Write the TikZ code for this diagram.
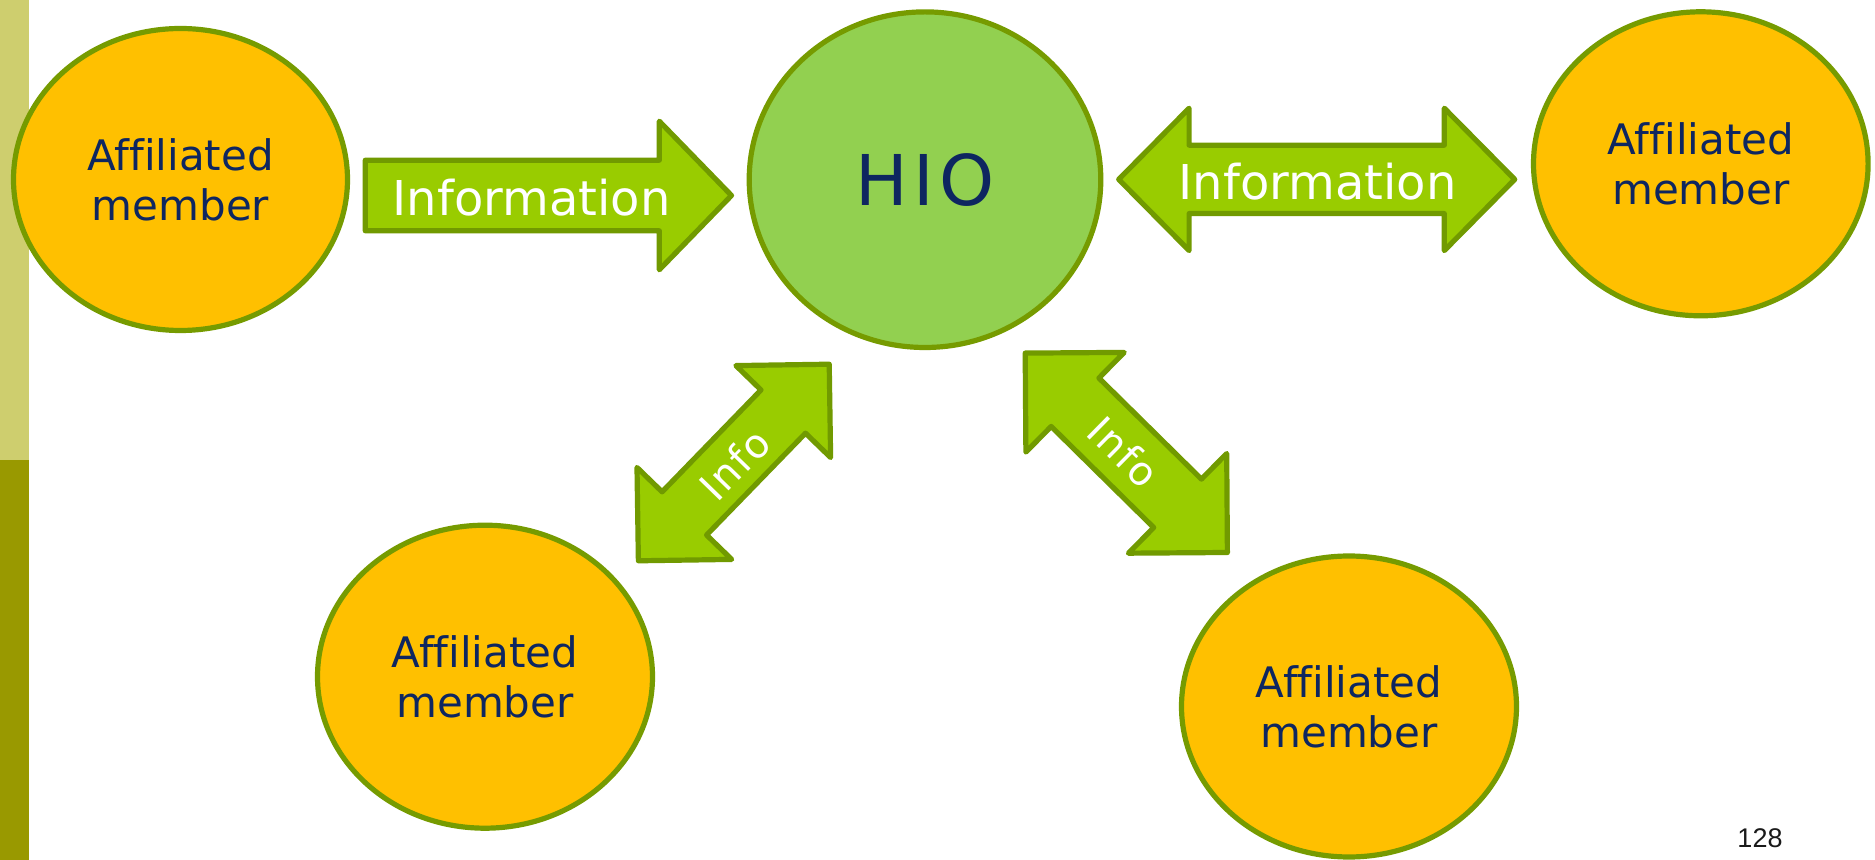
\documentclass[tikz,border=0pt]{standalone}
\usepackage{fontspec}
\setmainfont{DejaVu Sans}[Ligatures=NoCommon]
\newfontfamily\pagenumfont{Liberation Sans}
\usetikzlibrary{shapes.geometric}

\definecolor{barlight}{HTML}{CECE6E}
\definecolor{bardark}{HTML}{999900}
\definecolor{memberfill}{HTML}{FFC000}
\definecolor{hubfill}{HTML}{92D050}
\definecolor{ringgreen}{HTML}{769B00}
\definecolor{arrowfill}{HTML}{99CC00}
\definecolor{arrowline}{HTML}{719A00}
\definecolor{textnavy}{HTML}{0E2660}
\definecolor{pagegray}{HTML}{1A1A1A}

\begin{document}
\begin{tikzpicture}[x=0.5pt,y=-0.5pt,
  member/.style={ellipse, draw=ringgreen, line width=2.6pt, fill=memberfill,
    text=textnavy, inner sep=0pt, align=center,
    font=\fontsize{21}{25}\selectfont},
  hub/.style={ellipse, draw=ringgreen, line width=2.6pt, fill=hubfill,
    text=textnavy, inner sep=0pt,
    font=\fontsize{35}{42}\selectfont\addfontfeature{LetterSpace=8}},
  blockarrow/.style={fill=arrowfill, draw=arrowline, line width=2.6pt,
    line join=round},
  arrowtext/.style={text=white, inner sep=0pt,
    font=\fontsize{24}{29}\selectfont},
  infotext/.style={text=white, inner sep=0pt,
    font=\fontsize{20}{24}\selectfont\addfontfeature{LetterSpace=4}},
  % double-headed block arrow centred on the origin:
  % #1 total length, #2 head half-width, #3 shaft half-width, #4 head length
  pics/dblarrow/.style n args={4}{code={
    \path[blockarrow]
      (-#1/2,0) -- (-#1/2+#4,-#2) -- (-#1/2+#4,-#3) -- (#1/2-#4,-#3)
      -- (#1/2-#4,-#2) -- (#1/2,0) -- (#1/2-#4,#2) -- (#1/2-#4,#3)
      -- (-#1/2+#4,#3) -- (-#1/2+#4,#2) -- cycle;
  }}
]
\useasboundingbox (0,0) rectangle (1875,860);

% side bar
\fill[barlight] (0,0) rectangle (29,460);
\fill[bardark] (0,460) rectangle (29,860);

% members and hub
\node[member, minimum width=167pt, minimum height=151pt] (m1) at (180.5,179.5) {Affiliated\\member};
\node[hub, minimum width=175.8pt, minimum height=167.8pt] (hio) at (925,179.7) {HIO};
\node[member, minimum width=167.3pt, minimum height=152pt] (m2) at (1700.8,163.8) {Affiliated\\member};
\node[member, minimum width=167.5pt, minimum height=151.5pt] (m3) at (485,676.7) {Affiliated\\member};
\node[member, minimum width=167.5pt, minimum height=150.5pt] (m4) at (1349,706.5) {Affiliated\\member};

% one-way arrow from the left member to the hub
\path[blockarrow] (365.3,160.2) -- (659.3,160.2) -- (659.3,121.2) -- (731.5,195.5)
  -- (659.3,269.8) -- (659.3,230.8) -- (365.3,230.8) -- cycle;
\node[arrowtext, anchor=base] (lblA) at (531.7,216) {Information};

% two-way arrow between the hub and the right member
\pic at (1316.7,179.4) {dblarrow={396}{71.2}{34.2}{70.4}};
\node[arrowtext, anchor=base] (lblB) at (1317.7,199.3) {Information};

% diagonal two-way arrows towards the lower members
\pic[rotate=45.85] at (733.8,462.5) {dblarrow={274}{66}{31}{66}};
\node[infotext, rotate=45.85] (lblC) at (735,464) {Info};

\pic[rotate=-44.6] at (1126.3,452.8) {dblarrow={284}{70}{34}{70}};
\node[infotext, rotate=-44.6] (lblD) at (1124,452) {Info};

% page number
\node[anchor=base, inner sep=0pt, text=pagegray,
  font=\pagenumfont\fontsize{13.5}{16}\selectfont] (pagenum) at (1760,848) {128};
\end{tikzpicture}
\end{document}
